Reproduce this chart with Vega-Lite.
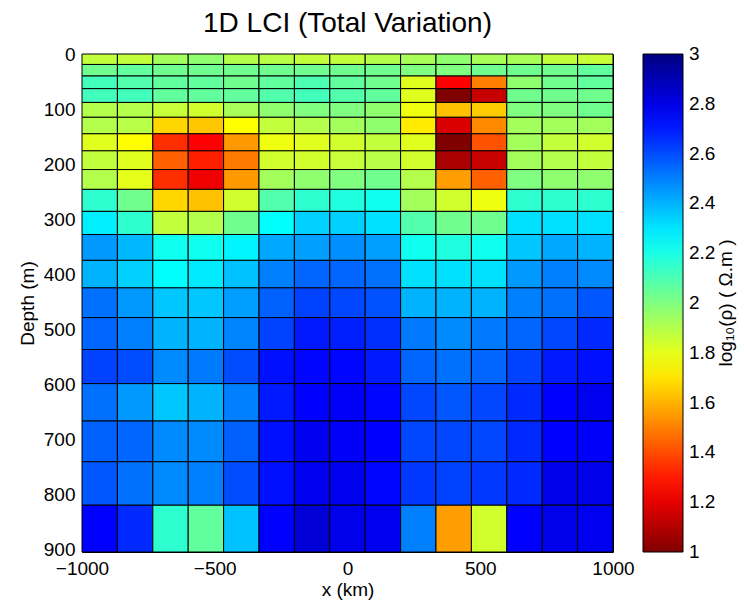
{
  "$schema": "https://vega.github.io/schema/vega-lite/v6.json",
  "width": 531,
  "height": 498,
  "autosize": {"type": "none"},
  "padding": {"left": 82, "top": 54, "right": 131, "bottom": 51},
  "background": "white",
  "title": {
    "text": "1D LCI (Total Variation)",
    "font": "Liberation Sans",
    "fontSize": 28,
    "fontWeight": "normal",
    "color": "black",
    "offset": 7,
    "anchor": "middle"
  },
  "config": {
    "view": {"stroke": "black", "strokeWidth": 1},
    "font": "Liberation Sans"
  },
  "datasets": {
    "layers": [
      {"z0": 0, "z1": 19, "c1": 1.87, "c2": 1.87, "c3": 1.93, "c4": 1.97, "c5": 1.90, "c6": 1.89, "c7": 1.87, "c8": 1.87, "c9": 1.90, "c10": 1.92, "c11": 1.97, "c12": 1.92, "c13": 1.92, "c14": 1.87, "c15": 1.86},
      {"z0": 19, "z1": 40, "c1": 2.03, "c2": 2.06, "c3": 2.03, "c4": 2.03, "c5": 2.03, "c6": 2.03, "c7": 2.03, "c8": 2.03, "c9": 2.03, "c10": 2.00, "c11": 2.00, "c12": 2.03, "c13": 2.03, "c14": 2.03, "c15": 2.06},
      {"z0": 40, "z1": 63, "c1": 2.12, "c2": 2.09, "c3": 2.06, "c4": 2.06, "c5": 2.03, "c6": 2.06, "c7": 2.10, "c8": 2.06, "c9": 2.03, "c10": 1.81, "c11": 1.25, "c12": 1.50, "c13": 1.97, "c14": 2.03, "c15": 2.06},
      {"z0": 63, "z1": 88, "c1": 2.12, "c2": 2.12, "c3": 2.06, "c4": 2.06, "c5": 2.06, "c6": 2.09, "c7": 2.12, "c8": 2.09, "c9": 2.06, "c10": 1.81, "c11": 1.00, "c12": 1.14, "c13": 2.03, "c14": 2.03, "c15": 2.03},
      {"z0": 88, "z1": 115, "c1": 1.90, "c2": 1.90, "c3": 1.86, "c4": 1.84, "c5": 1.92, "c6": 1.97, "c7": 2.00, "c8": 2.00, "c9": 1.97, "c10": 1.78, "c11": 1.63, "c12": 1.65, "c13": 2.00, "c14": 2.00, "c15": 2.03},
      {"z0": 115, "z1": 145, "c1": 1.90, "c2": 1.89, "c3": 1.67, "c4": 1.64, "c5": 1.75, "c6": 1.87, "c7": 1.90, "c8": 1.93, "c9": 1.97, "c10": 1.71, "c11": 1.18, "c12": 1.52, "c13": 1.93, "c14": 1.93, "c15": 1.93},
      {"z0": 145, "z1": 176, "c1": 1.81, "c2": 1.75, "c3": 1.34, "c4": 1.25, "c5": 1.55, "c6": 1.78, "c7": 1.81, "c8": 1.84, "c9": 1.87, "c10": 1.81, "c11": 1.00, "c12": 1.41, "c13": 1.93, "c14": 1.87, "c15": 1.84},
      {"z0": 176, "z1": 210, "c1": 1.87, "c2": 1.81, "c3": 1.44, "c4": 1.31, "c5": 1.49, "c6": 1.84, "c7": 1.84, "c8": 1.86, "c9": 1.89, "c10": 1.84, "c11": 1.08, "c12": 1.14, "c13": 1.93, "c14": 1.90, "c15": 1.87},
      {"z0": 210, "z1": 246, "c1": 1.90, "c2": 1.80, "c3": 1.34, "c4": 1.22, "c5": 1.55, "c6": 1.93, "c7": 1.97, "c8": 2.00, "c9": 2.03, "c10": 1.90, "c11": 1.56, "c12": 1.44, "c13": 2.00, "c14": 1.97, "c15": 1.97},
      {"z0": 246, "z1": 286, "c1": 2.16, "c2": 2.03, "c3": 1.67, "c4": 1.63, "c5": 1.84, "c6": 2.09, "c7": 2.16, "c8": 2.19, "c9": 2.22, "c10": 1.93, "c11": 1.84, "c12": 1.78, "c13": 2.16, "c14": 2.16, "c15": 2.16},
      {"z0": 286, "z1": 328, "c1": 2.28, "c2": 2.16, "c3": 1.87, "c4": 1.90, "c5": 2.03, "c6": 2.25, "c7": 2.34, "c8": 2.34, "c9": 2.31, "c10": 2.09, "c11": 2.03, "c12": 2.03, "c13": 2.31, "c14": 2.31, "c15": 2.31},
      {"z0": 328, "z1": 375, "c1": 2.45, "c2": 2.39, "c3": 2.22, "c4": 2.22, "c5": 2.27, "c6": 2.42, "c7": 2.44, "c8": 2.47, "c9": 2.44, "c10": 2.22, "c11": 2.19, "c12": 2.22, "c13": 2.36, "c14": 2.42, "c15": 2.40},
      {"z0": 375, "z1": 425, "c1": 2.40, "c2": 2.34, "c3": 2.25, "c4": 2.29, "c5": 2.37, "c6": 2.50, "c7": 2.55, "c8": 2.55, "c9": 2.53, "c10": 2.31, "c11": 2.31, "c12": 2.31, "c13": 2.45, "c14": 2.50, "c15": 2.48},
      {"z0": 425, "z1": 479, "c1": 2.53, "c2": 2.45, "c3": 2.36, "c4": 2.36, "c5": 2.44, "c6": 2.56, "c7": 2.62, "c8": 2.61, "c9": 2.59, "c10": 2.40, "c11": 2.40, "c12": 2.40, "c13": 2.50, "c14": 2.53, "c15": 2.58},
      {"z0": 479, "z1": 537, "c1": 2.55, "c2": 2.50, "c3": 2.40, "c4": 2.40, "c5": 2.49, "c6": 2.62, "c7": 2.70, "c8": 2.69, "c9": 2.66, "c10": 2.51, "c11": 2.48, "c12": 2.51, "c13": 2.55, "c14": 2.61, "c15": 2.67},
      {"z0": 537, "z1": 599, "c1": 2.62, "c2": 2.60, "c3": 2.48, "c4": 2.51, "c5": 2.60, "c6": 2.72, "c7": 2.74, "c8": 2.74, "c9": 2.70, "c10": 2.55, "c11": 2.53, "c12": 2.55, "c13": 2.62, "c14": 2.70, "c15": 2.72},
      {"z0": 599, "z1": 667, "c1": 2.53, "c2": 2.45, "c3": 2.36, "c4": 2.40, "c5": 2.50, "c6": 2.70, "c7": 2.75, "c8": 2.76, "c9": 2.74, "c10": 2.61, "c11": 2.58, "c12": 2.61, "c13": 2.67, "c14": 2.75, "c15": 2.78},
      {"z0": 667, "z1": 741, "c1": 2.56, "c2": 2.55, "c3": 2.48, "c4": 2.48, "c5": 2.56, "c6": 2.72, "c7": 2.78, "c8": 2.76, "c9": 2.75, "c10": 2.61, "c11": 2.61, "c12": 2.61, "c13": 2.67, "c14": 2.75, "c15": 2.76},
      {"z0": 741, "z1": 820, "c1": 2.58, "c2": 2.53, "c3": 2.48, "c4": 2.50, "c5": 2.60, "c6": 2.72, "c7": 2.78, "c8": 2.78, "c9": 2.74, "c10": 2.64, "c11": 2.62, "c12": 2.64, "c13": 2.67, "c14": 2.79, "c15": 2.79},
      {"z0": 820, "z1": 905, "c1": 2.75, "c2": 2.67, "c3": 2.16, "c4": 2.06, "c5": 2.37, "c6": 2.75, "c7": 2.83, "c8": 2.79, "c9": 2.78, "c10": 2.50, "c11": 1.56, "c12": 1.84, "c13": 2.75, "c14": 2.79, "c15": 2.78}
    ],
    "columns": [
      {"key": "c1", "x0": -1000, "x1": -866.67},
      {"key": "c2", "x0": -866.67, "x1": -733.33},
      {"key": "c3", "x0": -733.33, "x1": -600},
      {"key": "c4", "x0": -600, "x1": -466.67},
      {"key": "c5", "x0": -466.67, "x1": -333.33},
      {"key": "c6", "x0": -333.33, "x1": -200},
      {"key": "c7", "x0": -200, "x1": -66.67},
      {"key": "c8", "x0": -66.67, "x1": 66.67},
      {"key": "c9", "x0": 66.67, "x1": 200},
      {"key": "c10", "x0": 200, "x1": 333.33},
      {"key": "c11", "x0": 333.33, "x1": 466.67},
      {"key": "c12", "x0": 466.67, "x1": 600},
      {"key": "c13", "x0": 600, "x1": 733.33},
      {"key": "c14", "x0": 733.33, "x1": 866.67},
      {"key": "c15", "x0": 866.67, "x1": 1000}
    ]
  },
  "data": {"name": "layers"},
  "transform": [
    {"fold": ["c1", "c2", "c3", "c4", "c5", "c6", "c7", "c8", "c9", "c10", "c11", "c12", "c13", "c14", "c15"], "as": ["key", "rho"]},
    {"lookup": "key", "from": {"data": {"name": "columns"}, "key": "key", "fields": ["x0", "x1"]}}
  ],
  "mark": {"type": "rect", "stroke": "black", "strokeWidth": 1},
  "encoding": {
    "x": {
      "field": "x0", "type": "quantitative",
      "scale": {"domain": [-1000, 1000], "nice": false},
      "axis": {
        "title": "x (km)", "values": [-1000, -500, 0, 500, 1000],
        "format": "d", "grid": false, "ticks": false, "domain": false,
        "labelFont": "Liberation Sans", "labelFontSize": 19, "labelColor": "black",
        "labelPadding": 7, "labelFlush": false,
        "titleFont": "Liberation Sans", "titleFontSize": 19, "titleFontWeight": "normal",
        "titleColor": "black", "titlePadding": 2
      }
    },
    "x2": {"field": "x1"},
    "y": {
      "field": "z0", "type": "quantitative",
      "scale": {"domain": [0, 905], "nice": false, "reverse": true},
      "axis": {
        "title": "Depth (m)", "values": [0, 100, 200, 300, 400, 500, 600, 700, 800, 900],
        "grid": false, "ticks": false, "domain": false,
        "labelFont": "Liberation Sans", "labelFontSize": 19, "labelColor": "black",
        "labelPadding": 7, "labelFlush": false,
        "titleFont": "Liberation Sans", "titleFontSize": 19, "titleFontWeight": "normal",
        "titleColor": "black", "titlePadding": 6
      }
    },
    "y2": {"field": "z1"},
    "color": {
      "field": "rho", "type": "quantitative",
      "scale": {
        "domain": [1, 1.25, 1.75, 2.25, 2.75, 3],
        "range": ["#800000", "#ff0000", "#ffff00", "#00ffff", "#0000ff", "#000080"],
        "interpolate": "rgb",
        "clamp": true
      },
      "legend": {
        "title": "log₁₀(ρ) ( Ω.m )",
        "titleOrient": "right",
        "titleFont": "Liberation Sans", "titleFontSize": 19, "titleFontWeight": "normal",
        "titleColor": "black",
        "titlePadding": 2,
        "values": [1, 1.2, 1.4, 1.6, 1.8, 2, 2.2, 2.4, 2.6, 2.8, 3],
        "format": "~g",
        "direction": "vertical",
        "orient": "right",
        "offset": 30,
        "gradientLength": 498,
        "gradientThickness": 40,
        "gradientStrokeColor": "black",
        "gradientStrokeWidth": 1,
        "labelFont": "Liberation Sans", "labelFontSize": 19, "labelColor": "black",
        "labelOffset": 6,
        "labelOverlap": false,
        "encode": {
          "title": {"update": {"angle": {"value": -90}, "baseline": {"value": "top"}}},
          "labels": {"update": {"baseline": {"value": "middle"}}}
        }
      }
    }
  }
}
